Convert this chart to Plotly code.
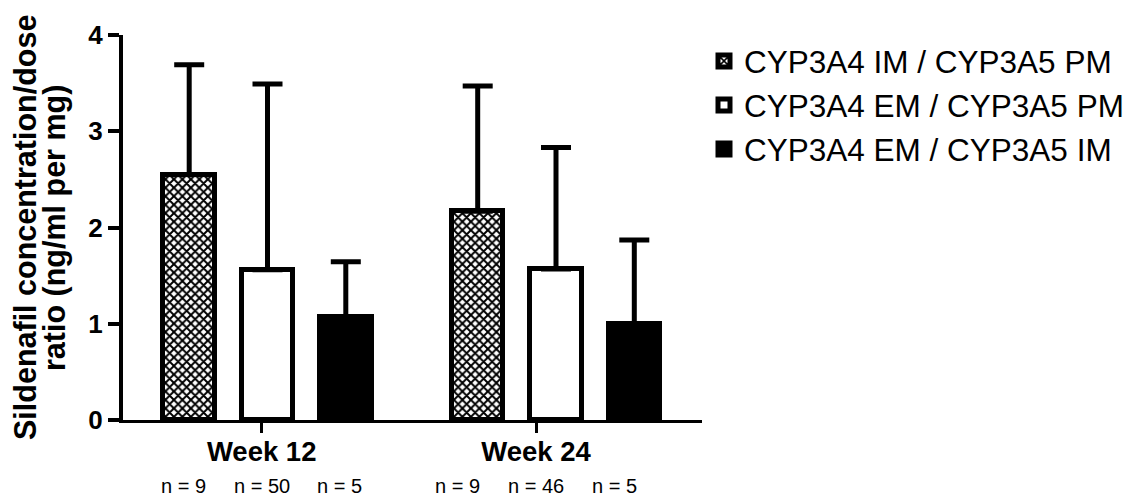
import plotly.graph_objects as go

# ---------------- data ----------------
groups = ["Week 12", "Week 24"]
series = ["CYP3A4 IM / CYP3A5 PM", "CYP3A4 EM / CYP3A5 PM", "CYP3A4 EM / CYP3A5 IM"]
means_im_pm = [2.55, 2.17]
means_em_pm = [1.56, 1.57]
means_em_im = [1.065, 1.00]
err_im_pm = [1.14, 1.30]
err_em_pm = [1.93, 1.26]
err_em_im = [0.58, 0.87]
n_im_pm = [9, 9]
n_em_pm = [50, 46]
n_em_im = [5, 5]
y_ticks = [0, 1, 2, 3, 4]

means = [means_im_pm, means_em_pm, means_em_im]
errs = [err_im_pm, err_em_pm, err_em_im]
ns = [n_im_pm, n_em_pm, n_em_im]

# ---------------- layout constants ----------------
FONT = "Liberation Sans, Arial, sans-serif"
SHIFT = 8                      # browser body margin
W, H = 1142 - SHIFT, 499 - SHIFT
# plot area in reference pixels: x 123..702, y 35..420
L, T = 123 - SHIFT, 35 - SHIFT
R = W - (702 - SHIFT)
B = H - (420 - SHIFT)
X_RANGE = [0, 7.3946]
GROUP_CENTERS = [1.8455, 5.530]
GROUP_TICKS = [1.771, 5.275]
OFFSETS = [-1, 0, 1]
BAR_W = 0.658

styles = [
    dict(color="white", pattern=dict(shape="x", size=6, solidity=0.55,
                                     fgcolor="black", bgcolor="white", fillmode="replace")),
    dict(color="white"),
    dict(color="black"),
]

fig = go.Figure()
for j, name in enumerate(series):
    xs = [GROUP_CENTERS[g] + OFFSETS[j] for g in range(len(groups))]
    fig.add_trace(go.Bar(
        x=xs, y=means[j], name=name, width=BAR_W,
        marker=dict(line=dict(color="black", width=5), **styles[j]),
        error_y=dict(type="data", array=errs[j], arrayminus=[0] * len(groups),
                     symmetric=False, color="black", thickness=5, width=15),
    ))

pw = W - L - R
ph = H - T - B


def xpaper(xp):
    """reference pixel x -> paper coordinate"""
    return (xp - SHIFT - L) / pw


def ypaper(yp):
    """reference pixel y -> paper coordinate"""
    return (H - B - (yp - SHIFT)) / ph


annotations = []
# n labels
for j in range(len(series)):
    for g in range(len(groups)):
        annotations.append(dict(
            x=GROUP_TICKS[g] + OFFSETS[j], xref="x",
            y=ypaper(486), yref="paper",
            text=f"n = {ns[j][g]}", showarrow=False,
            font=dict(family=FONT, size=20, color="black"),
            xanchor="center", yanchor="middle"))
# y title (two lines)
for txt, xp in [("Sildenafil concentration/dose", 25), ("ratio (ng/ml per mg)", 54)]:
    annotations.append(dict(
        x=xpaper(xp), xref="paper", y=ypaper(228), yref="paper",
        text=txt, textangle=-90, showarrow=False,
        font=dict(family=FONT, size=30.5, color="black", weight="bold"),
        xanchor="center", yanchor="middle"))

fig.update_layout(
    width=W, height=H,
    margin=dict(l=L, r=R, t=T, b=B),
    paper_bgcolor="white", plot_bgcolor="white",
    barmode="overlay",
    bargap=0,
    font=dict(family=FONT, color="black"),
    showlegend=True,
    legend=dict(x=xpaper(704), y=ypaper(34), xanchor="left", yanchor="top",
                font=dict(family=FONT, size=31.5, color="black"),
                bgcolor="rgba(0,0,0,0)", borderwidth=0),
    annotations=annotations,
    xaxis=dict(range=X_RANGE, showgrid=False, zeroline=False,
               showline=True, linecolor="black", linewidth=2.5,
               ticks="outside", ticklen=10, tickwidth=3, tickcolor="black",
               tickvals=GROUP_TICKS, ticktext=groups, ticklabelstandoff=-5,
               tickfont=dict(family=FONT, size=27.5, color="black", weight="bold")),
    yaxis=dict(range=[0, 4], showgrid=False, zeroline=False,
               showline=True, linecolor="black", linewidth=4,
               ticks="outside", ticklen=11, tickwidth=3.5, tickcolor="black",
               tickvals=y_ticks, ticktext=[str(v) for v in y_ticks],
               tickfont=dict(family=FONT, size=26, color="black", weight="bold")),
)

fig.write_html("out.html")
